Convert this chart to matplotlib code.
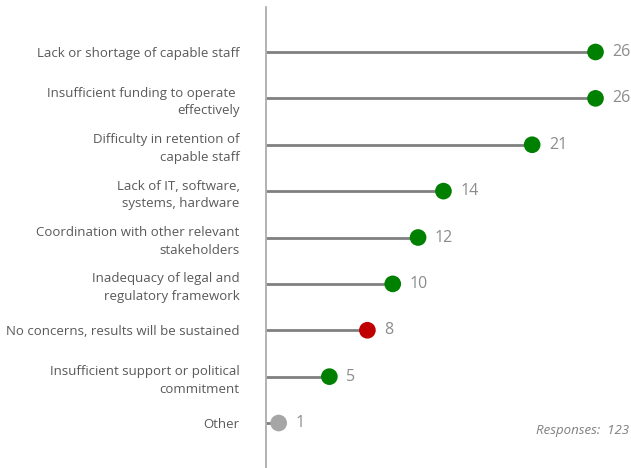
import matplotlib.pyplot as plt

categories = [
    "Lack or shortage of capable staff",
    "Insufficient funding to operate \neffectively",
    "Difficulty in retention of\ncapable staff",
    "Lack of IT, software,\nsystems, hardware",
    "Coordination with other relevant\nstakeholders",
    "Inadequacy of legal and\nregulatory framework",
    "No concerns, results will be sustained",
    "Insufficient support or political\ncommitment",
    "Other",
]
counts = [26, 26, 21, 14, 12, 10, 8, 5, 1]
dot_colors = ["#008000"] * 6 + ["#c00000", "#008000", "#a6a6a6"]
total_responses = 123

plt.rcParams['font.family'] = ['Open Sans', 'DejaVu Sans']

fig = plt.figure(figsize=(6.31, 4.68), dpi=100)
ax = fig.add_axes([266 / 631, 0, 1 - 266 / 631, 1 - 7 / 468])

y = list(range(len(categories)))
ax.hlines(y, 0, counts, color="#808080", linewidth=2, zorder=1)
ax.scatter(counts, y, s=12 ** 2, c=dot_colors, zorder=2, linewidths=0)

for yi, v in zip(y, counts):
    ax.annotate(str(v), (v, yi), xytext=(12, 0), textcoords="offset points",
                va="center", ha="left", fontsize=11.5, color="#8c8c8c")

ax.set_xlim(0, 28.8)
ax.set_ylim(8.97, -0.97)
ax.set_xticks([])
ax.set_yticks(y)
ax.set_yticklabels(categories, fontsize=9.5, color="#595959", linespacing=1.45)
ax.tick_params(axis="y", length=0, pad=19)

for s in ["top", "right", "bottom"]:
    ax.spines[s].set_visible(False)
ax.spines["left"].set_color("#a6a6a6")
ax.spines["left"].set_linewidth(1.2)

ax.text(0.995, 0.082, f"Responses:  {total_responses}", transform=ax.transAxes,
        ha="right", va="center", fontsize=9.5, style="italic", color="#7f7f7f")

fig.savefig("out.png", dpi=100)
